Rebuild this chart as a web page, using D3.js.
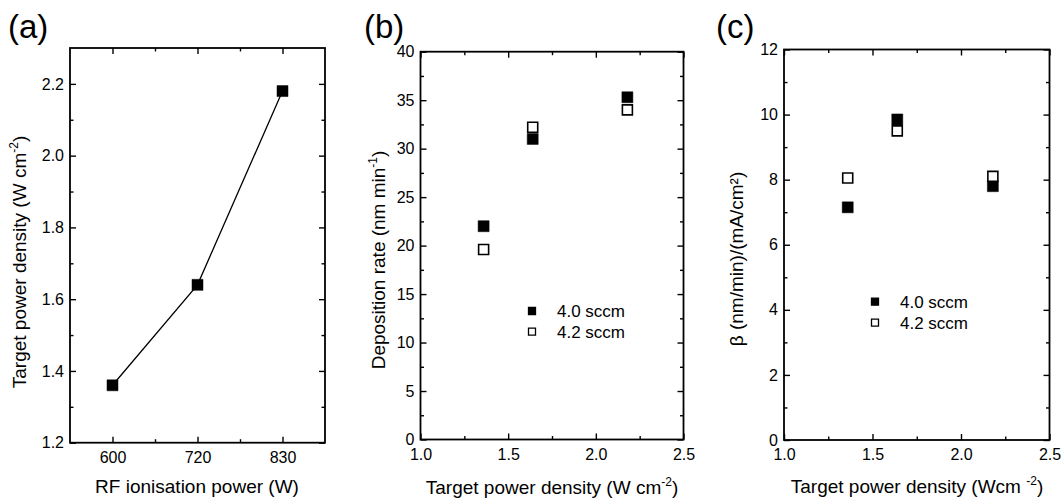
<!DOCTYPE html>
<html>
<head>
<meta charset="utf-8">
<script src="https://cdn.jsdelivr.net/npm/d3@7"></script>
<style>
body { margin: 0; background: #fff; }
text { font-family: Arial, "Liberation Sans", sans-serif; fill: #000; }
</style>
</head>
<body>
<svg id="fig" width="1063" height="502"></svg>
<script>
// (a) target power density vs RF ionisation power
var rfPower = ["600", "720", "830"]
var powerDensity = [1.36, 1.64, 2.18]

// (b) and (c) share the x values
var targetDensity = [1.36, 1.64, 2.18]
var depRate40 = [22.0, 31.0, 35.3]
var depRate42 = [19.6, 32.2, 34.0]
var beta40 = [7.15, 9.85, 7.8]
var beta42 = [8.05, 9.5, 8.1]
var seriesNames = ["4.0 sccm", "4.2 sccm"]

// tick labels
var yTicksA = [1.2, 1.4, 1.6, 1.8, 2.0, 2.2]
var yTicksB = [0, 5, 10, 15, 20, 25, 30, 35, 40]
var yTicksC = [0, 2, 4, 6, 8, 10, 12]
var xTicksBC = [1.0, 1.5, 2.0, 2.5]

var svg = d3.select("#fig")

// draws box + inward ticks on all four sides
function frame(box, x, y, xt, xm, yt, ym, fx, fy) {
    var g = svg.append("g").attr("class", "frame")

    var axes = [
        [d3.axisBottom(x).tickValues(xt).tickSizeInner(-6).tickFormat(fx), "translate(0," + box.b + ")"],
        [d3.axisBottom(x).tickValues(xm).tickSizeInner(-3.5).tickFormat(""), "translate(0," + box.b + ")"],
        [d3.axisTop(x).tickValues(xt).tickSizeInner(-6).tickFormat(""), "translate(0," + box.t + ")"],
        [d3.axisTop(x).tickValues(xm).tickSizeInner(-3.5).tickFormat(""), "translate(0," + box.t + ")"],
        [d3.axisLeft(y).tickValues(yt).tickSizeInner(-6).tickFormat(fy), "translate(" + box.l + ",0)"],
        [d3.axisLeft(y).tickValues(ym).tickSizeInner(-3.5).tickFormat(""), "translate(" + box.l + ",0)"],
        [d3.axisRight(y).tickValues(yt).tickSizeInner(-6).tickFormat(""), "translate(" + box.r + ",0)"],
        [d3.axisRight(y).tickValues(ym).tickSizeInner(-3.5).tickFormat(""), "translate(" + box.r + ",0)"]
    ]
    axes.forEach(function (a, i) {
        var ax = g.append("g").attr("transform", a[1])
            .call(a[0].tickSizeOuter(0).tickPadding(i == 0 ? 9 : 6))
        ax.select(".domain").remove()
        ax.selectAll("line").attr("stroke", "#000").attr("stroke-width", 1.4)
        ax.selectAll("text").attr("font-size", 16).attr("fill", "#000")
            .style("font-family", "Arial, 'Liberation Sans', sans-serif")
    })

    g.append("rect")
        .attr("x", box.l).attr("y", box.t)
        .attr("width", box.r - box.l).attr("height", box.b - box.t)
        .attr("fill", "none").attr("stroke", "#000").attr("stroke-width", 1.8)
}

function label(txt, x, y, rot, sup, after) {
    var t = svg.append("text")
        .attr("transform", "translate(" + x + "," + y + ")" + (rot ? " rotate(-90)" : ""))
        .attr("text-anchor", "middle")
        .attr("font-size", 19)
    t.append("tspan").text(txt)
    if (sup) {
        t.append("tspan").attr("font-size", 12).attr("dy", -8).text(sup)
        t.append("tspan").attr("dy", 8).text(after)
    }
}

function panelTag(txt, x, y) {
    svg.append("text").attr("x", x).attr("y", y).attr("font-size", 33).text(txt)
}

var square = d3.symbol().type(d3.symbolSquare)

function markers(data, x, y, filled, size) {
    svg.append("g").selectAll("path")
        .data(data)
        .enter().append("path")
        .attr("d", square.size(size * size)())
        .attr("transform", function (d) { return "translate(" + x(d[0]) + "," + y(d[1]) + ")" })
        .attr("fill", filled ? "#000" : "#fff")
        .attr("stroke", "#000")
        .attr("stroke-width", filled ? 0.5 : 1.6)
}

function legend(x0, y0, gap) {
    seriesNames.forEach(function (n, i) {
        svg.append("path")
            .attr("d", square.size(49)())
            .attr("transform", "translate(" + x0 + "," + (y0 + i * gap) + ")")
            .attr("fill", i == 0 ? "#000" : "#fff")
            .attr("stroke", "#000").attr("stroke-width", 1.3)
        svg.append("text")
            .attr("x", x0 + 25).attr("y", y0 + i * gap + 6)
            .attr("font-size", 17).text(n)
    })
}

var fmt1 = d3.format(".1f")

// ---------- (a)
var boxA = { l: 70, t: 48, r: 325, b: 442.7 }
var xA = d3.scaleLinear().domain([-0.5, 2.5]).range([boxA.l, boxA.r])
var yA = d3.scaleLinear().domain([1.2, 2.3]).range([boxA.b, boxA.t])
frame(boxA, xA, yA, [0, 1, 2], [0.5, 1.5], yTicksA, [1.3, 1.5, 1.7, 1.9, 2.1],
    function (d) { return rfPower[d] }, fmt1)

var dataA = powerDensity.map(function (v, i) { return [i, v] })
svg.append("path")
    .datum(dataA)
    .attr("fill", "none").attr("stroke", "#000").attr("stroke-width", 1.3)
    .attr("d", d3.line().x(function (d) { return xA(d[0]) }).y(function (d) { return yA(d[1]) }))
markers(dataA, xA, yA, true, 11)

panelTag("(a)", 8, 38)
label("RF ionisation power (W)", 197, 493, false)
label("Target power density (W cm", 26, 262, true, "-2", ")")

// ---------- (b)
var boxB = { l: 420.5, t: 51.7, r: 683.5, b: 439.5 }
var xB = d3.scaleLinear().domain([1, 2.5]).range([boxB.l, boxB.r])
var yB = d3.scaleLinear().domain([0, 40]).range([boxB.b, boxB.t])
frame(boxB, xB, yB, xTicksBC, [1.25, 1.75, 2.25], yTicksB, [2.5, 7.5, 12.5, 17.5, 22.5, 27.5, 32.5, 37.5],
    fmt1, d3.format("d"))

markers(targetDensity.map(function (v, i) { return [v, depRate40[i]] }), xB, yB, true, 11)
markers(targetDensity.map(function (v, i) { return [v, depRate42[i]] }), xB, yB, false, 10)
legend(532, 311, 20.7)

panelTag("(b)", 364, 38)
label("Target power density (W cm", 552, 494, false, "-2", ")")
label("Deposition rate (nm min", 385, 260, true, "-1", ")")

// ---------- (c)
var boxC = { l: 784, t: 49.5, r: 1049.5, b: 440 }
var xC = d3.scaleLinear().domain([1, 2.5]).range([boxC.l, boxC.r])
var yC = d3.scaleLinear().domain([0, 12]).range([boxC.b, boxC.t])
frame(boxC, xC, yC, xTicksBC, [1.25, 1.75, 2.25], yTicksC, [1, 3, 5, 7, 9, 11],
    fmt1, d3.format("d"))

markers(targetDensity.map(function (v, i) { return [v, beta40[i]] }), xC, yC, true, 11)
markers(targetDensity.map(function (v, i) { return [v, beta42[i]] }), xC, yC, false, 10)
legend(875, 301.7, 21)

panelTag("(c)", 716, 38)
label("Target power density (Wcm ", 917, 493, false, "-2", ")")
label("β (nm/min)/(mA/cm²)", 743, 259, true)
</script>
</body>
</html>
